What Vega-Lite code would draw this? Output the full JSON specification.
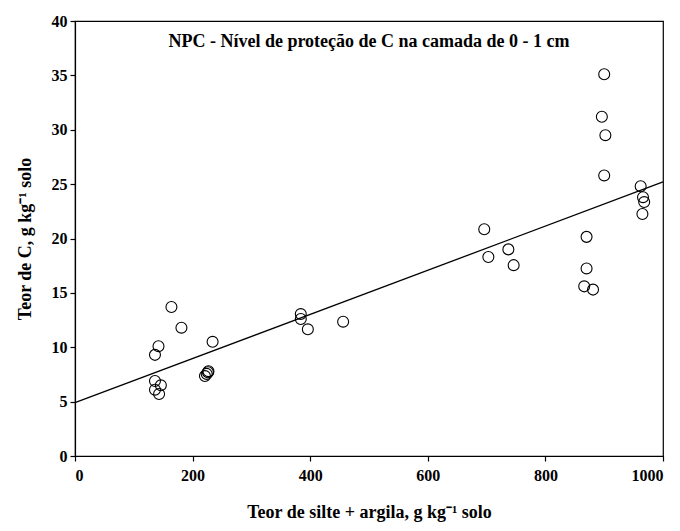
{
  "$schema": "https://vega.github.io/schema/vega-lite/v6.json",
  "width": 588,
  "height": 435,
  "autosize": {"type": "none"},
  "padding": {"left": 75, "top": 21, "right": 17, "bottom": 75},
  "background": "white",
  "config": {
    "view": {"stroke": "black", "strokeWidth": 1.2},
    "font": "Liberation Serif",
    "axis": {
      "grid": false,
      "domainColor": "black",
      "tickColor": "black",
      "labelColor": "black",
      "titleColor": "black",
      "labelFont": "Liberation Serif",
      "titleFont": "Liberation Serif",
      "labelFontWeight": "bold",
      "titleFontWeight": "bold",
      "labelFontSize": 16,
      "titleFontSize": 18,
      "tickSize": 5,
      "tickWidth": 1.2,
      "domainWidth": 1.2
    }
  },
  "datasets": {
    "pts": [
      {"x": 164, "y": 13.7},
      {"x": 181, "y": 11.8},
      {"x": 142, "y": 10.1},
      {"x": 136, "y": 9.3},
      {"x": 234, "y": 10.5},
      {"x": 136, "y": 6.9},
      {"x": 146, "y": 6.5},
      {"x": 136, "y": 6.1},
      {"x": 143, "y": 5.7},
      {"x": 221, "y": 7.35},
      {"x": 224, "y": 7.55},
      {"x": 226, "y": 7.7},
      {"x": 227, "y": 7.8},
      {"x": 384, "y": 13.05},
      {"x": 384, "y": 12.6},
      {"x": 396, "y": 11.65},
      {"x": 456, "y": 12.35},
      {"x": 696, "y": 20.85},
      {"x": 703, "y": 18.3},
      {"x": 737, "y": 19.0},
      {"x": 746, "y": 17.55},
      {"x": 870, "y": 20.15},
      {"x": 870, "y": 17.25},
      {"x": 866, "y": 15.6},
      {"x": 881, "y": 15.3},
      {"x": 900, "y": 35.1},
      {"x": 896, "y": 31.2},
      {"x": 902, "y": 29.5},
      {"x": 900, "y": 25.8},
      {"x": 962, "y": 24.8},
      {"x": 966, "y": 23.8},
      {"x": 968, "y": 23.35},
      {"x": 965, "y": 22.25}
    ],
    "fit": [
      {"x": 0, "y": 4.9},
      {"x": 1000, "y": 25.2}
    ],
    "lbl": [
      {"x": 500, "y": 38.1, "t": "NPC - Nível de proteção de C na camada de 0 - 1 cm"}
    ]
  },
  "layer": [
    {
      "data": {"name": "fit"},
      "mark": {"type": "line", "color": "black", "strokeWidth": 1.3},
      "encoding": {
        "x": {"field": "x", "type": "quantitative", "scale": {"domain": [0, 1000], "nice": false},
              "axis": {"values": [0, 200, 400, 600, 800, 1000], "format": "d", "title": "Teor de silte + argila, g kg⁻¹ solo", "titlePadding": 20, "labelPadding": 6}},
        "y": {"field": "y", "type": "quantitative", "scale": {"domain": [0, 40], "nice": false},
              "axis": {"values": [0, 5, 10, 15, 20, 25, 30, 35, 40], "format": "d", "title": "Teor de C, g kg⁻¹ solo", "titlePadding": 17, "labelPadding": 3}}
      }
    },
    {
      "data": {"name": "pts"},
      "mark": {"type": "point", "shape": "circle", "filled": false, "stroke": "black", "strokeWidth": 1.1, "size": 120, "opacity": 1},
      "encoding": {
        "x": {"field": "x", "type": "quantitative"},
        "y": {"field": "y", "type": "quantitative"}
      }
    },
    {
      "data": {"name": "lbl"},
      "mark": {"type": "text", "font": "Liberation Serif", "fontWeight": "bold", "fontSize": 18, "color": "black"},
      "encoding": {
        "x": {"field": "x", "type": "quantitative"},
        "y": {"field": "y", "type": "quantitative"},
        "text": {"field": "t"}
      }
    }
  ]
}
